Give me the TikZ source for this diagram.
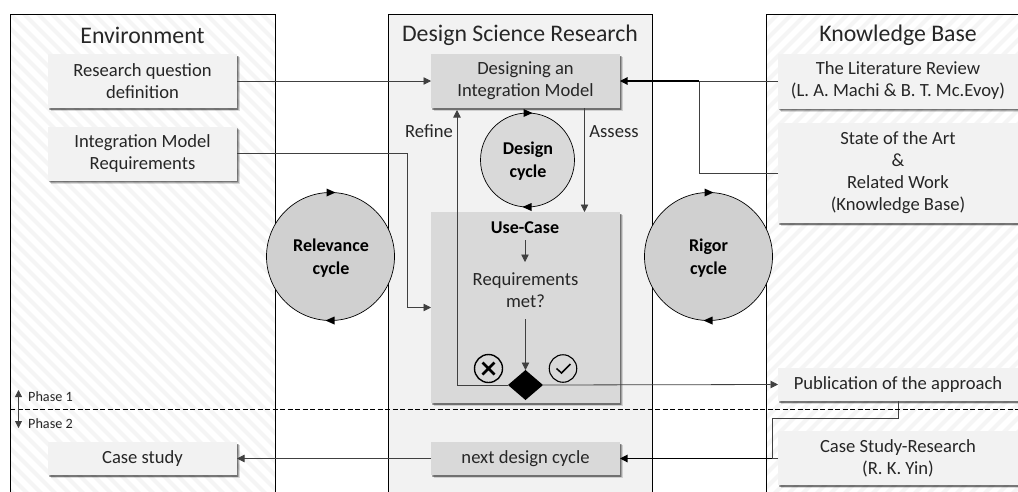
\documentclass[tikz,border=0pt]{standalone}
\usepackage{fontspec}
\setmainfont{Carlito}
\usetikzlibrary{arrows.meta,shapes.geometric,shadows,calc}
\definecolor{panel}{HTML}{F2F2F2}
\definecolor{dark}{HTML}{D9D9D9}
\definecolor{cyc}{HTML}{D0D0D0}
\definecolor{hatch}{HTML}{F5F5F5}
\definecolor{ink}{HTML}{262626}
\tikzset{
  softshadow/.style={
    general shadow={shadow xshift=2.6pt,shadow yshift=-3pt,fill=black,opacity=.14},
    general shadow={shadow xshift=2pt,shadow yshift=-2.3pt,fill=black,opacity=.22},
    general shadow={shadow xshift=1.4pt,shadow yshift=-1.6pt,fill=black,opacity=.3}},
  base/.style={rectangle,inner sep=0pt,outer sep=0pt,align=center,text=ink,
    font=\fontsize{18.6}{22}\selectfont},
  lightbox/.style={base,fill=panel,softshadow},
  darkbox/.style={base,fill=dark,softshadow},
  title/.style={inner sep=0pt,text=ink,font=\fontsize{23.8}{28}\selectfont},
  lab/.style={inner sep=0pt,align=center,text=ink,font=\fontsize{18.6}{22}\selectfont},
  blab/.style={lab,font=\fontsize{18}{23}\selectfont\bfseries,text=black},
  phase/.style={inner sep=0pt,anchor=west,text=ink,font=\fontsize{14.2}{16}\selectfont},
  cyclenode/.style={circle,draw=black,line width=.7pt,inner sep=0pt,outer sep=0pt},
  conn/.style={draw=black!75,line width=.8pt},
  heavy/.style={draw=black,line width=1.1pt},
  tip/.style={-{Triangle[length=7.5pt,width=7.5pt]}},
  arr/.style={conn,tip},
  column/.style={draw=black,line width=1pt}
}
\begin{document}
\begin{tikzpicture}[x=1pt,y=-1pt]
\useasboundingbox (0,0) rectangle (1018,491);
\clip (0,0) rectangle (1018,491);
% hatched columns
\begin{scope}
  \clip (10.5,14.5) rectangle (275,495);
  \foreach \k in {-290,-276,...,520}
    \draw[hatch,line width=4pt] (0,\k) -- (290,\k+290);
\end{scope}
\begin{scope}
  \clip (766,14.5) rectangle (1022,495);
  \foreach \k in {0,14,...,800}
    \draw[hatch,line width=4pt] (750,\k) -- (1030,\k-280);
\end{scope}
\fill[panel] (388.5,14.5) rectangle (652,495);
\draw[column] (10.5,495) -- (10.5,14.5) -- (275,14.5) -- (275,495);
\draw[column] (388.5,495) -- (388.5,14.5) -- (652,14.5) -- (652,495);
\draw[column] (766,495) -- (766,14.5) -- (1022,14.5);
\node[title] (tenv) at (142.5,35) {Environment};
\node[title] (tdsr) at (520,35) {Design Science Research};
\node[title] (tkb) at (898,35) {Knowledge Base};
% boxes
\node[lightbox,minimum width=189pt,minimum height=54pt] (rq) at (142.5,81) {Research question\\definition};
\node[lightbox,minimum width=189pt,minimum height=54pt] (imr) at (142.5,153.5) {Integration Model\\Requirements};
\node[lightbox,minimum width=189pt,minimum height=33pt] (cs) at (142.5,458.5) {Case study};
\node[darkbox,minimum width=189pt,minimum height=54pt] (dim) at (525.5,81) {Designing an\\Integration Model};
\node[darkbox,minimum width=189pt,minimum height=191pt] (uc) at (525.5,307.5) {};
\node[darkbox,minimum width=189pt,minimum height=33pt] (ndc) at (525.5,458.5) {next design cycle};
\node[lightbox,minimum width=240pt,minimum height=55pt] (lit) at (898,81) {The Literature Review\\(L. A. Machi \& B. T. Mc.Evoy)};
\node[lightbox,minimum width=240pt,minimum height=100pt] (sota) at (898,173) {State of the Art\\\&\\Related Work\\(Knowledge Base)};
\node[lightbox,minimum width=240pt,minimum height=33pt] (pub) at (898,384.5) {Publication of the approach};
\node[lightbox,minimum width=240pt,minimum height=54pt] (csr) at (898,458) {Case Study-Research\\(R. K. Yin)};
% cycles
\node[cyclenode,fill=cyc,minimum size=128pt] (rel) at (330.5,256.5) {};
\node[cyclenode,fill=cyc,minimum size=128pt] (rig) at (708.5,256.5) {};
\node[cyclenode,fill=dark,minimum size=94pt] (des) at (527.5,160) {};
\node[blab] (relt) at (331,258) {Relevance\\cycle};
\node[blab] (rigt) at (708.5,258) {Rigor\\cycle};
\node[blab] (dest) at (528,161) {Design\\cycle};
\foreach \c in {rel,rig,des}{
  \fill[black] ($(\c.north)+(-4,-4)$) -- ($(\c.north)+(5,0)$) -- ($(\c.north)+(-4,4)$) -- cycle;
  \fill[black] ($(\c.south)+(4,-4)$) -- ($(\c.south)+(-5,0)$) -- ($(\c.south)+(4,4)$) -- cycle;
}
% inner use-case content
\node[blab] (ucl) at (525,228) {Use-Case};
\node[lab] (rm) at (525.5,290) {Requirements\\met?};
\node[diamond,fill=black,inner sep=0pt,outer sep=0pt,minimum width=35pt,minimum height=30pt] (dia) at (525.5,385) {};
\node[circle,draw=black,line width=1.4pt,minimum size=28pt,inner sep=0pt] (no) at (488.5,368.5) {};
\node[circle,draw=black,line width=1.1pt,minimum size=27.5pt,inner sep=0pt] (yes) at (563,368.5) {};
\draw[black,line width=2.8pt] ($(no)+(-6,-6)$) -- ($(no)+(6,6)$) ($(no)+(-6,6)$) -- ($(no)+(6,-6)$);
\draw[black,line width=1.5pt] ($(yes)+(-6.5,0)$) -- ($(yes)+(-1.5,4.5)$) -- ($(yes)+(7.5,-4.5)$);
\node[lab] (refine) at (429,131.5) {Refine};
\node[lab] (assess) at (614,131.5) {Assess};
% connectors
\coordinate (refb) at (457,385);
\coordinate (reft) at (457,110);
\coordinate (asst) at (584.5,108);
\coordinate (assb) at (584.5,212);
\coordinate (bend1) at (407.5,153.5);
\coordinate (bend2) at (699,173);
\coordinate (pubd) at (898,418);
\coordinate (pubt) at (772,418);
\coordinate (pubb) at (772,458.5);
\coordinate (ucs) at (525,240);
\coordinate (uce) at (525,262);
\coordinate (rms) at (525.5,319);
\draw[arr] (rq.east) -- (dim.west);
\draw[conn] (lit.west) -- (bend2 |- lit.west);
\draw[heavy,tip] (bend2 |- dim.east) -- (dim.east);
\draw[conn] (sota.west) -- (bend2) -- (bend2 |- dim.east);
\draw[arr] (imr.east) -- (bend1) -- (bend1 |- uc.west) -- (uc.west);
\draw[arr] (asst) -- (assb);
\draw[arr] (ucs) -- (uce);
\draw[arr] (rms) -- (dia.north);
\draw[arr] (dia.west) -- (refb) -- (reft);
\draw[arr] (dia.east) -- (pub.west);
\draw[conn] (csr.west |- pubb) -- (pubb);
\draw[heavy,tip] (pubb) -- (ndc.east);
\draw[conn] (pub.south) -- (pubd) -- (pubt) -- (pubb);
\draw[arr] (ndc.west) -- (cs.east);
% phase divider
\coordinate (dl) at (10,409);
\coordinate (dr) at (1018,409);
\draw[black,line width=.8pt,dash pattern=on 5pt off 2.5pt] (dl) -- (dr);
\coordinate (pa) at (18.5,390);
\coordinate (pb) at (18.5,428);
\draw[conn,{Triangle[length=7pt,width=7pt]}-{Triangle[length=7pt,width=7pt]}] (pa) -- (pb);
\node[phase] (p1) at (28,396.5) {Phase 1};
\node[phase] (p2) at (28,424) {Phase 2};
\end{tikzpicture}
\end{document}
